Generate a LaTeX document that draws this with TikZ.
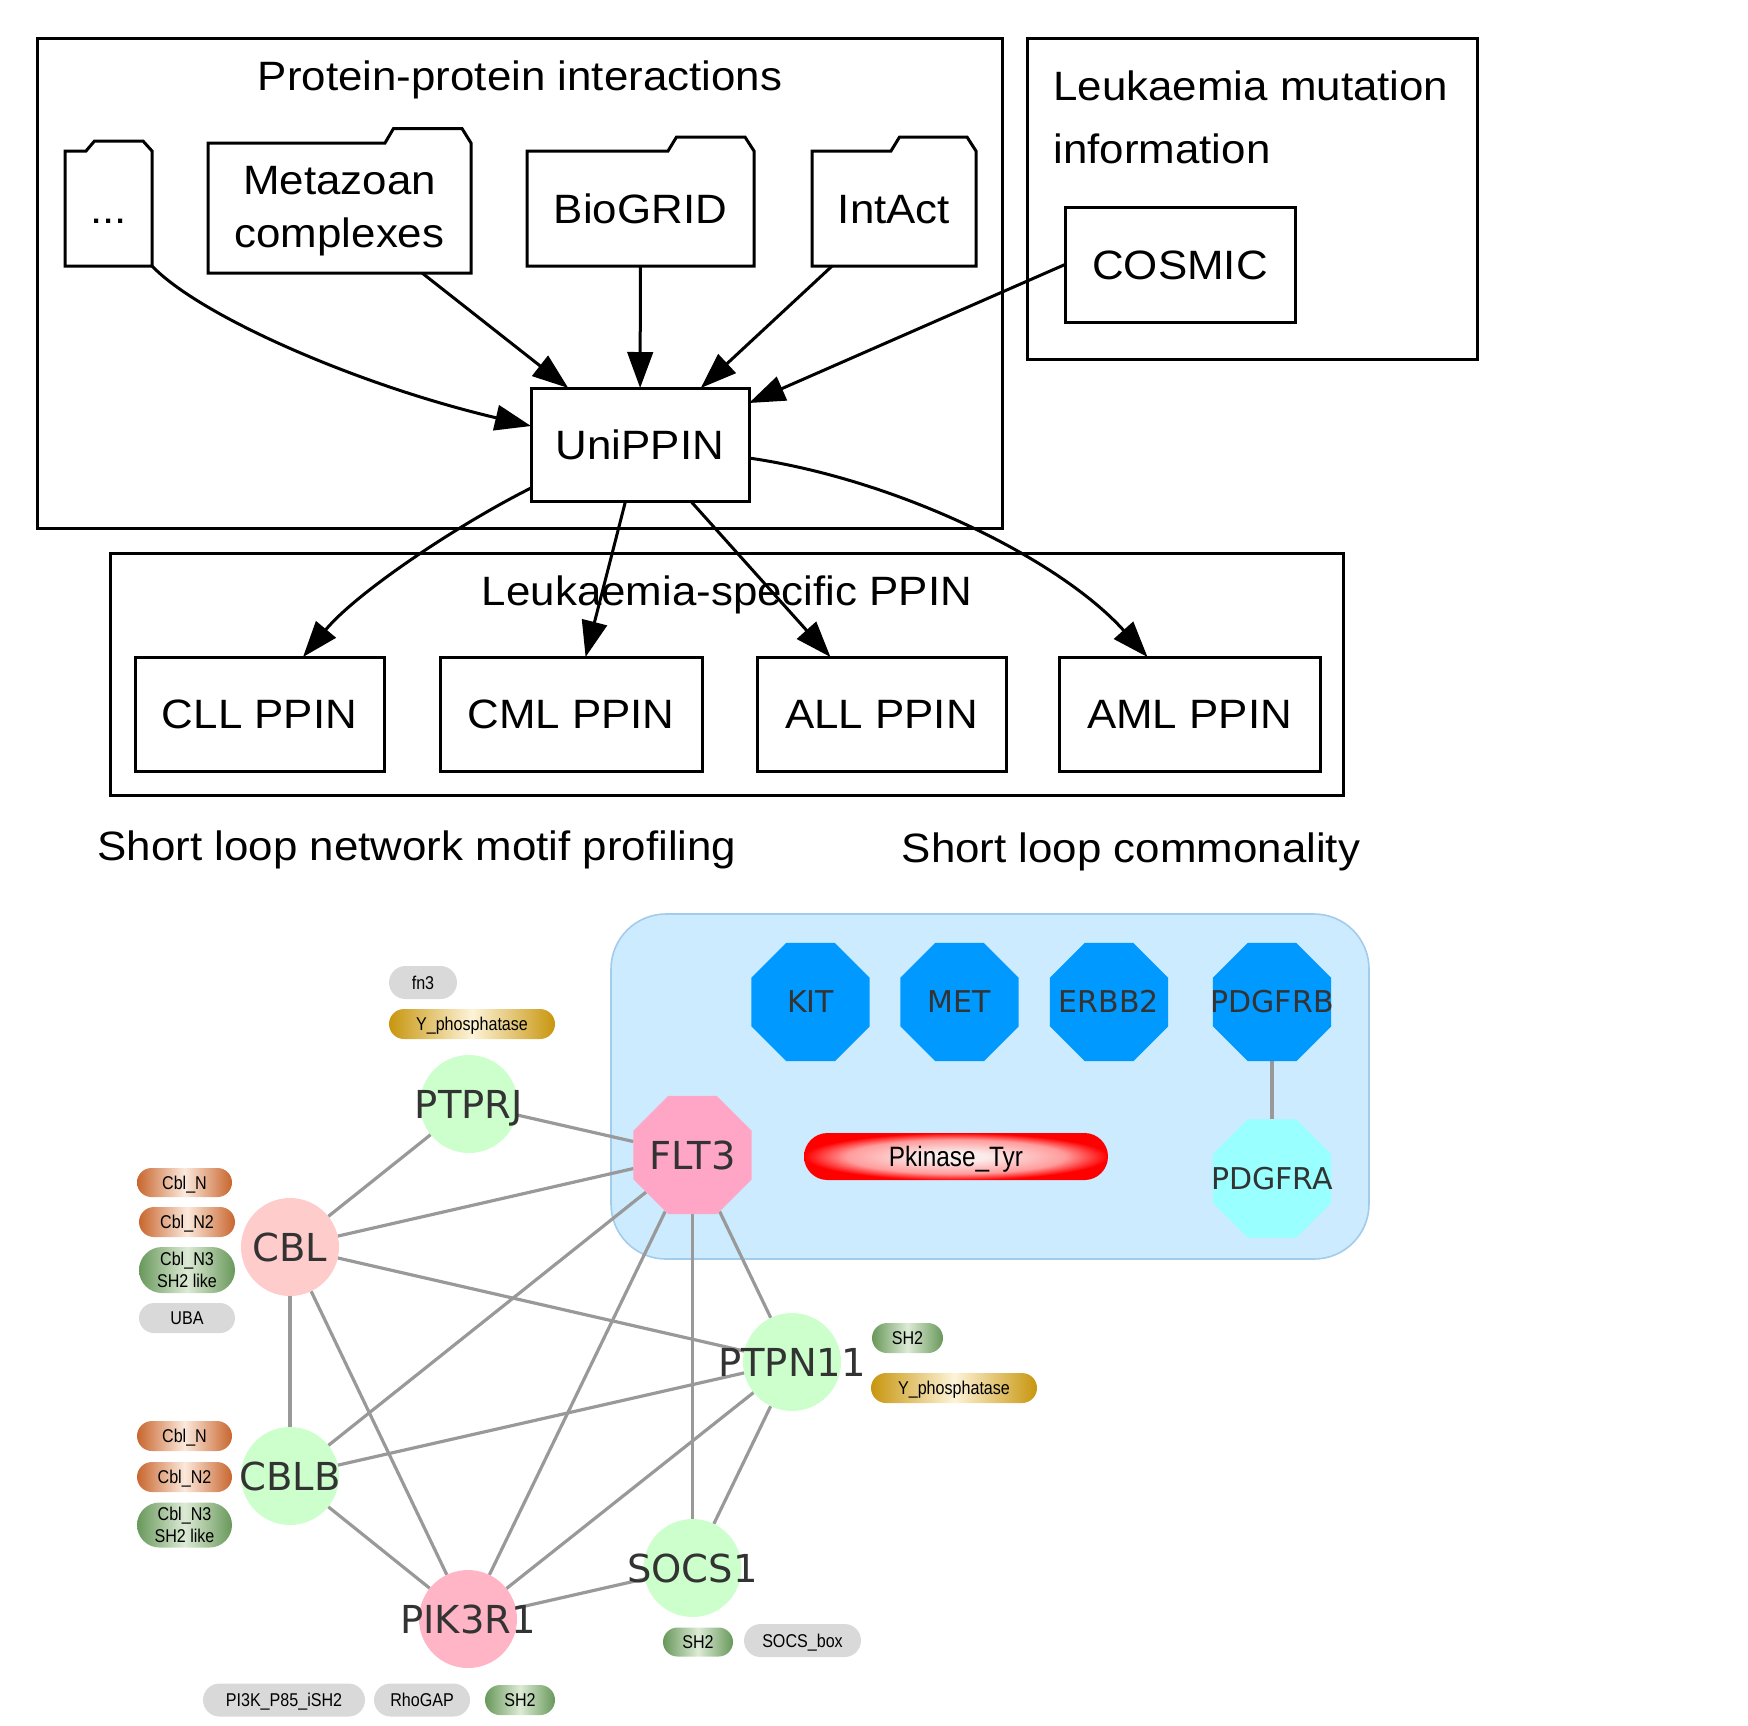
\documentclass[tikz,border=0pt]{standalone}
\usepackage{fontspec}
\setmainfont{Liberation Sans}
\newfontfamily\gvfont[FakeStretch=1.07]{Liberation Sans}
\newfontfamily\domfont[FakeStretch=0.87]{Liberation Sans}
\newfontfamily\cyfont{DejaVu Sans}
\usetikzlibrary{arrows.meta,shapes.geometric,shapes.misc,backgrounds,calc}

\definecolor{txtgray}{HTML}{333333}
\definecolor{edgegray}{HTML}{999999}
\definecolor{gngreen}{HTML}{CCFFCC}
\definecolor{gnpink}{HTML}{FFCCCC}
\definecolor{gnpik}{HTML}{FFB5C5}
\definecolor{flt3col}{HTML}{FFA6C6}
\definecolor{octblue}{HTML}{0099FF}
\definecolor{octcyan}{HTML}{99FFFF}
\definecolor{commonfill}{HTML}{CCEBFF}
\definecolor{commonline}{HTML}{A3CBEA}
\definecolor{orout}{HTML}{C9662E}
\definecolor{orin}{HTML}{FBE9DC}
\definecolor{grout}{HTML}{68985A}
\definecolor{grin}{HTML}{DDEBD6}
\definecolor{goout}{HTML}{C8960E}
\definecolor{goin}{HTML}{FDF3D8}
\definecolor{pillgray}{HTML}{D9D9D9}
\definecolor{pkin}{HTML}{FBECEC}
\definecolor{pkmid}{HTML}{FF9C9C}
\definecolor{pkout}{HTML}{FF0000}

\pgfdeclareradialshading{pkshade}{\pgfpoint{0bp}{0bp}}{color(0bp)=(pkin); color(5bp)=(pkin); color(18bp)=(pkmid); color(25bp)=(pkout); color(50bp)=(pkout)}

\newcommand\drawfolder[3]{%
  \draw[boxline] (#1.south west) -- (#1.north west) -- ([xshift=-#2]#1.north east)
    -- ([xshift=-#2+4.25pt,yshift=#3]#1.north east)
    -- ([xshift=-4.5pt,yshift=#3]#1.north east)
    -- (#1.north east) -- (#1.south east) -- cycle;}

\tikzset{
  boxline/.style={draw=black, line width=1.5pt, line join=miter},
  gvbox/.style={boxline, rectangle, inner sep=0pt, outer sep=0pt,
    font=\gvfont\fontsize{20.5}{25}\selectfont, text height=14.65pt, text depth=0pt},
  gvtext/.style={inner sep=0pt, font=\gvfont\fontsize{20.5}{25}\selectfont},
  folderbody/.style={rectangle, inner sep=0pt, outer sep=0pt, align=center,
    font=\gvfont\fontsize{20.5}{26.5}\selectfont},
  folderlabel/.style={inner sep=0pt, align=center,
    font=\gvfont\fontsize{20.5}{26.5}\selectfont},
  arr/.style={line width=1.5pt, -{Triangle[length=18pt,width=12.75pt]}},
  gene/.style={circle, minimum size=49pt, inner sep=0pt, outer sep=0pt, draw=none},
  octa/.style={regular polygon, regular polygon sides=8, minimum size=63.9pt,
    inner sep=0pt, outer sep=0pt, draw=none},
  genelabel/.style={font=\cyfont\fontsize{19.25}{23}\selectfont, text=txtgray,
    inner sep=0pt, text height=14pt, text depth=0pt},
  octlabel/.style={font=\cyfont\fontsize{15}{18}\selectfont, text=txtgray,
    inner sep=0pt, text height=10.9pt, text depth=0pt},
  pill/.style={rounded rectangle, inner sep=0pt, outer sep=0pt, draw=none},
  domlabel/.style={font=\domfont\fontsize{9.25}{11}\selectfont, text=black,
    inner sep=0pt, text height=6.6pt, text depth=0pt},
  domlabeltwo/.style={font=\domfont\fontsize{9.25}{11}\selectfont, text=black,
    inner sep=0pt, align=center},
  pklabel/.style={font=\domfont\fontsize{14}{16}\selectfont, text=black,
    inner sep=0pt, text height=10pt, text depth=0pt},
  orangepill/.style={pill, left color=orout, right color=orout, middle color=orin},
  greenpill/.style={pill, left color=grout, right color=grout, middle color=grin},
  goldpill/.style={pill, left color=goout, right color=goout, middle color=goin},
  graypill/.style={pill, fill=pillgray},
  ppiedge/.style={draw=edgegray, line width=1.6pt},
  commonrect/.style={rectangle, rounded corners=27.5pt, fill=commonfill,
    draw=commonline, line width=0.8pt, minimum width=379pt, minimum height=172.5pt,
    inner sep=0pt, outer sep=0pt}
}

\begin{document}
\begin{tikzpicture}[x=0.5pt, y=-0.5pt]
\useasboundingbox (0,0) rectangle (1748,1725);

% ---------- Protein-protein interactions cluster ----------
\node[boxline, rectangle, inner sep=0pt, outer sep=0pt, minimum width=482.5pt, minimum height=245pt] (ppibox) at (519.5,283) {};
\node[gvtext, anchor=base] (ppititle) at (520,90) {Protein-protein interactions};

\node[folderbody, minimum width=43.5pt, minimum height=57.5pt, text height=14.65pt, text depth=0pt] (dots) at (108.5,208.5) {...};
\node[folderbody, minimum width=131.5pt, minimum height=65pt,
  label={[folderlabel, yshift=-1.75pt]center:{Metazoan\\complexes}}] (meta) at (339.5,208) {};
\node[folderbody, minimum width=113.5pt, minimum height=57.5pt, text height=14.65pt, text depth=0pt] (biogrid) at (640.5,208.5) {BioGRID};
\node[folderbody, minimum width=82pt, minimum height=57.5pt, text height=14.65pt, text depth=0pt] (intact) at (894,208.5) {IntAct};
\drawfolder{dots}{33pt}{5pt}
\drawfolder{meta}{43pt}{7.25pt}
\drawfolder{biogrid}{43pt}{7pt}
\drawfolder{intact}{42.5pt}{7pt}

\node[gvbox, minimum width=109pt, minimum height=56.5pt] (unippin) at (640,444.5) {UniPPIN};

% ---------- Leukaemia mutation information cluster ----------
\node[boxline, rectangle, inner sep=0pt, outer sep=0pt, minimum width=225pt, minimum height=160.5pt] (mutbox) at (1252,198.5) {};
\node[gvtext, anchor=base west] (muttitleA) at (1053,100) {Leukaemia mutation};
\node[gvtext, anchor=base west] (muttitleB) at (1053,163) {information};
\node[gvbox, minimum width=115pt, minimum height=57.5pt] (cosmic) at (1180,264.5) {COSMIC};

% ---------- Leukaemia-specific PPIN cluster ----------
\node[boxline, rectangle, inner sep=0pt, outer sep=0pt, minimum width=616.75pt, minimum height=121pt] (leukbox) at (727,674) {};
\node[gvtext, anchor=base] (leuktitle) at (727,605) {Leukaemia-specific PPIN};
\node[gvbox, minimum width=124.5pt, minimum height=57pt] (cll) at (259.5,714) {CLL PPIN};
\node[gvbox, minimum width=131pt, minimum height=57pt] (cml) at (571,714) {CML PPIN};
\node[gvbox, minimum width=124.5pt, minimum height=57pt] (allppin) at (881.5,714) {ALL PPIN};
\node[gvbox, minimum width=130.5pt, minimum height=57pt] (aml) at (1189.5,714) {AML PPIN};

% ---------- arrows ----------
\draw[arr] (dots.south east) .. controls +(48,50) and +(-174,-41) .. ([yshift=9.25pt]unippin.west);
\draw[arr] (meta) -- (unippin);
\draw[arr] (biogrid) -- (unippin);
\draw[arr] (intact) -- (unippin);
\draw[arr] (cosmic.west) -- ([yshift=-7.5pt]unippin.north east);
\draw[arr] ([yshift=-21.75pt]unippin.west) .. controls +(-70,35) and +(55,-66) .. ([xshift=21.75pt]cll.north);
\draw[arr] (unippin) -- (cml);
\draw[arr] (unippin) -- (allppin);
\draw[arr] ([yshift=-6.75pt]unippin.east) .. controls +(151,22) and +(-87,-97) .. ([xshift=-21pt]aml.north);

% ---------- section labels ----------
\node[gvtext, anchor=base] (lblprofiling) at (417,860) {Short loop network motif profiling};
\node[gvtext, anchor=base] (lblcommon) at (1131,862) {Short loop commonality};

% ---------- network nodes ----------
\node[gene, fill=gngreen, label={[genelabel]center:PTPRJ}] (ptprj) at (469,1104) {};
\node[gene, fill=gnpink, label={[genelabel]center:CBL}] (cbl) at (290,1247) {};
\node[gene, fill=gngreen, label={[genelabel]center:CBLB}] (cblb) at (290,1476) {};
\node[gene, fill=gngreen, label={[genelabel]center:PTPN11}] (ptpn11) at (792,1362) {};
\node[gene, fill=gngreen, label={[genelabel]center:SOCS1}] (socs1) at (692.5,1568) {};
\node[gene, fill=gnpik, label={[genelabel]center:PIK3R1}] (pik3r1) at (468,1619) {};

\node[octa, fill=flt3col, label={[genelabel]center:FLT3}] (flt3) at (692.5,1155) {};
\node[octa, fill=octblue, label={[octlabel]center:KIT}] (kit) at (810.5,1002) {};
\node[octa, fill=octblue, label={[octlabel]center:MET}] (met) at (959.5,1002) {};
\node[octa, fill=octblue, label={[octlabel]center:ERBB2}] (erbb2) at (1109,1002) {};
\node[octa, fill=octblue, label={[octlabel]center:PDGFRB}] (pdgfrb) at (1272,1002) {};
\node[octa, fill=octcyan, label={[octlabel]center:PDGFRA}] (pdgfra) at (1272,1178.5) {};

\node[pill, shading=pkshade, minimum width=152pt, minimum height=23.5pt, label={[pklabel]center:Pkinase\_Tyr}] (pkinase) at (956,1156.5) {};

% ---------- domain pills ----------
\node[graypill, minimum width=34pt, minimum height=16.5pt, label={[domlabel]center:fn3}] (fnthree) at (423,982.5) {};
\node[goldpill, minimum width=83pt, minimum height=15pt, label={[domlabel]center:Y\_phosphatase}] (yphosA) at (472,1024) {};

\node[orangepill, minimum width=47.5pt, minimum height=14.5pt, label={[domlabel]center:Cbl\_N}] (cblnA) at (184.5,1182.5) {};
\node[orangepill, minimum width=48pt, minimum height=15pt, label={[domlabel]center:Cbl\_N2}] (cblntwoA) at (187,1222) {};
\node[greenpill, minimum width=48pt, minimum height=23pt, label={[domlabeltwo]center:{Cbl\_N3\\SH2 like}}] (cblnthreeA) at (187,1270) {};
\node[graypill, minimum width=48pt, minimum height=15pt, label={[domlabel]center:UBA}] (uba) at (187,1318) {};

\node[orangepill, minimum width=47.5pt, minimum height=15pt, label={[domlabel]center:Cbl\_N}] (cblnB) at (184.5,1436) {};
\node[orangepill, minimum width=47.5pt, minimum height=15pt, label={[domlabel]center:Cbl\_N2}] (cblntwoB) at (184.5,1477) {};
\node[greenpill, minimum width=47.5pt, minimum height=22.5pt, label={[domlabeltwo]center:{Cbl\_N3\\SH2 like}}] (cblnthreeB) at (184.5,1525) {};

\node[graypill, minimum width=81pt, minimum height=16.5pt, label={[domlabel]center:PI3K\_P85\_iSH2}] (pithree) at (284,1700) {};
\node[graypill, minimum width=48pt, minimum height=16.5pt, label={[domlabel]center:RhoGAP}] (rhogap) at (422,1700) {};
\node[greenpill, minimum width=35pt, minimum height=15pt, label={[domlabel]center:SH2}] (shtwoP) at (520,1700) {};

\node[greenpill, minimum width=35pt, minimum height=14.5pt, label={[domlabel]center:SH2}] (shtwoS) at (698,1642) {};
\node[graypill, minimum width=58.5pt, minimum height=16.5pt, label={[domlabel]center:SOCS\_box}] (socsbox) at (802.5,1640.5) {};

\node[greenpill, minimum width=35.5pt, minimum height=15pt, label={[domlabel]center:SH2}] (shtwoT) at (907.5,1338) {};
\node[goldpill, minimum width=83pt, minimum height=15pt, label={[domlabel]center:Y\_phosphatase}] (yphosB) at (954,1388) {};

% ---------- background: common box and interaction edges ----------
\begin{pgfonlayer}{background}
\node[commonrect] (common) at (990,1086.5) {};
\draw[ppiedge] (ptprj) -- (flt3);
\draw[ppiedge] (ptprj) -- (cbl);
\draw[ppiedge] (cbl) -- (flt3);
\draw[ppiedge] (cbl) -- (ptpn11);
\draw[ppiedge] (cbl) -- (cblb);
\draw[ppiedge] (cbl) -- (pik3r1);
\draw[ppiedge] (flt3) -- (cblb);
\draw[ppiedge] (flt3) -- (pik3r1);
\draw[ppiedge] (flt3) -- (socs1);
\draw[ppiedge] (flt3) -- (ptpn11);
\draw[ppiedge] (ptpn11) -- (cblb);
\draw[ppiedge] (ptpn11) -- (pik3r1);
\draw[ppiedge] (ptpn11) -- (socs1);
\draw[ppiedge] (cblb) -- (pik3r1);
\draw[ppiedge] (pik3r1) -- (socs1);
\draw[ppiedge] (pdgfrb) -- (pdgfra);
\end{pgfonlayer}
\end{tikzpicture}
\end{document}
